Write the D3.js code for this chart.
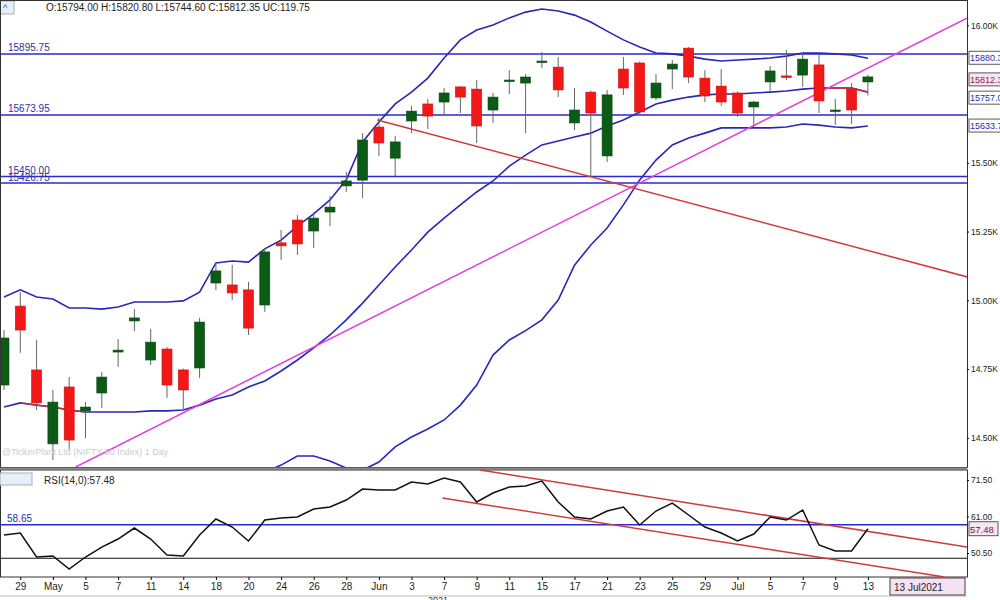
<!DOCTYPE html>
<html>
<head>
<meta charset="utf-8">
<script src="https://cdn.jsdelivr.net/npm/d3@7"></script>
<style>
  body { margin: 0; background: #fff; }
  text { font-family: "Liberation Sans", Arial, sans-serif; }
</style>
</head>
<body>
<svg id="chart" width="1000" height="600"></svg>
<script>
// trading days (label shown every second day)
const dates = ["28","29","30","May","4","5","6","7","10","11","12","14","17","18","19","20","21","24","25","26","27","28","31","Jun","2","3","4","7","8","9","10","11","14","15","16","17","18","21","22","23","24","25","28","29","30","Jul","2","5","6","7","8","9","12","13"];

const opens  = [14692,14979,14747,14478,14685,14598,14663,14812,14925,14783,14823,14747,14754,15063,15056,15038,14983,15209,15292,15252,15321,15416,15437,15630,15517,15652,15714,15721,15776,15768,15692,15797,15790,15867,15848,15645,15757,15525,15841,15863,15736,15841,15917,15808,15779,15754,15703,15794,15816,15819,15856,15688,15768,15794];
const highs  = [14892,15030,14856,14674,14721,14630,14739,14859,14968,14896,14830,14752,14936,15136,15129,15067,15190,15256,15310,15321,15379,15467,15608,15663,15597,15707,15732,15772,15779,15801,15754,15837,15823,15903,15885,15772,15762,15765,15885,15868,15823,15874,15921,15837,15841,15759,15725,15852,15910,15903,15892,15732,15790,15820.8];
const lows   = [14674,14809,14601,14419,14456,14499,14609,14758,14888,14765,14645,14601,14718,15038,15001,14874,14958,15147,15165,15190,15270,15394,15372,15525,15452,15608,15623,15674,15681,15572,15645,15750,15608,15845,15739,15619,15452,15503,15747,15677,15728,15768,15790,15721,15707,15667,15630,15757,15801,15776,15681,15637,15641,15744.6];
const closes = [14863,14892,14627,14630,14492,14612,14721,14819,14936,14848,14692,14674,14921,15107,15027,14899,15176,15198,15205,15299,15339,15434,15583,15572,15576,15688,15670,15754,15739,15634,15739,15801,15812,15870,15765,15692,15681,15747,15772,15685,15790,15859,15812,15743,15721,15681,15721,15834,15812,15877,15725,15692,15692,15812.35];

// Bollinger bands
const bbUpper = [15012,15038,15012,15005,14972,14972,14968,14976,14994,14994,14994,14998,15030,15136,15143,15139,15187,15219,15270,15314,15365,15438,15576,15648,15714,15757,15808,15881,15947,15983,16001,16027,16048,16059,16052,16037,16012,15979,15947,15921,15899,15896,15888,15877,15870,15874,15877,15881,15888,15899,15899,15896,15892,15880.3];
const bbMid   = [14612,14627,14619,14612,14601,14594,14594,14594,14594,14598,14598,14601,14619,14641,14656,14685,14707,14743,14783,14827,14874,14929,14990,15056,15121,15183,15248,15299,15347,15394,15434,15488,15528,15565,15579,15594,15608,15634,15656,15685,15714,15728,15739,15747,15750,15750,15754,15757,15761,15768,15772,15772,15772,15757];
const bbLower = [14210,14215,14220,14220,14230,14215,14220,14212,14195,14200,14200,14205,14210,14150,14170,14230,14375,14401,14434,14434,14416,14390,14383,14412,14467,14503,14532,14565,14619,14692,14801,14856,14890,14929,15001,15128,15201,15263,15347,15438,15510,15565,15590,15608,15627,15627,15627,15627,15630,15641,15637,15630,15627,15633.7];

const rsi = [55.68,56.25,49.35,49.63,45.9,49.35,52.22,54.53,57.69,54.53,49.92,49.63,55.68,60.28,57.98,53.95,59.99,60.57,60.86,63.16,63.73,65.75,68.91,68.62,68.62,70.92,70.35,72.08,70.92,65.17,67.76,69.49,69.77,71.21,65.17,60.86,60.28,62.58,63.73,58.55,62.58,64.88,61.43,57.98,56.25,53.95,55.96,60.86,59.99,62.87,52.8,51.07,51.07,57.48];

const levels = [15895.75, 15673.95, 15450.00, 15426.75];
const priceTicks = [14500, 14750, 15000, 15250, 15500, 16000];
const rsiTicks = [50.5, 61, 71.5];
const rsiLevels = [58.65, 49];

// trendlines as [index, value] pairs
const magentaLine = [[4.4, 14394], [59.1, 16027]];
const redLine = [[22.9, 15656], [59.1, 15085]];
const rsiUpper = [[29.2, 74.38], [59.1, 52.2]];
const rsiLower = [[26.9, 66.32], [57.7, 43.6]];

const svg = d3.select("#chart");
const W = 967;
const pTop = 0, pBot = 467, rTop = 470, rBot = 577;

const x = d3.scaleLinear().domain([-0.245, 59.08]).range([0, W]);
const y = d3.scaleLinear().domain([14394, 16092]).range([pBot, pTop]);
const yr = d3.scaleLinear().domain([43.6, 74.38]).range([rBot, rTop]);

const idx = d3.range(dates.length);

svg.append("clipPath").attr("id", "pclip").append("rect").attr("x", 0).attr("y", pTop).attr("width", W).attr("height", pBot - pTop);
svg.append("clipPath").attr("id", "rclip").append("rect").attr("x", 0).attr("y", rTop).attr("width", W).attr("height", rBot - rTop);

const price = svg.append("g").attr("clip-path", "url(#pclip)");

// horizontal levels
price.selectAll("line.lvl").data(levels).join("line")
  .attr("x1", 0).attr("x2", W)
  .attr("y1", d => y(d)).attr("y2", d => y(d))
  .attr("stroke", "#2a2ad0").attr("stroke-width", 1.5);

const line = (arr) => d3.line().x((d, i) => x(i)).y(d => y(d))(arr);
const segLine = d3.line().x(d => x(d[0])).y(d => y(d[1]));

// bollinger bands
[bbUpper, bbMid, bbLower].forEach(b => {
  price.append("path").attr("d", line(b)).attr("fill", "none")
    .attr("stroke", "#2828b8").attr("stroke-width", 1.6);
});
// red overlays on middle band
[[1, 5], [50, 53]].forEach(([a, b]) => {
  price.append("path")
    .attr("d", d3.line().x(i => x(i)).y(i => y(bbMid[i]))(d3.range(a, b + 1)))
    .attr("fill", "none").attr("stroke", "#d03030").attr("stroke-width", 1.4);
});

price.append("path").attr("d", segLine(magentaLine)).attr("stroke", "#e040e0").attr("stroke-width", 1.5).attr("fill", "none");
price.append("path").attr("d", segLine(redLine)).attr("stroke", "#d03a3a").attr("stroke-width", 1.5).attr("fill", "none");

// candles
const cw = 10;
const c = price.selectAll("g.c").data(idx).join("g");
c.append("line")
  .attr("x1", i => x(i)).attr("x2", i => x(i))
  .attr("y1", i => y(highs[i])).attr("y2", i => y(lows[i]))
  .attr("stroke", "#666").attr("stroke-width", 1);
c.append("rect")
  .attr("x", i => x(i) - cw / 2).attr("width", cw)
  .attr("y", i => y(Math.max(opens[i], closes[i])))
  .attr("height", i => Math.max(1.5, Math.abs(y(opens[i]) - y(closes[i]))))
  .attr("fill", i => closes[i] >= opens[i] ? "#0b5a16" : "#f21818")
  .attr("stroke", i => closes[i] >= opens[i] ? "#0b4a14" : "#d01010").attr("stroke-width", 0.6);

// level labels
const lvlLab = [["15895.75", levels[0], -3], ["15673.95", levels[1], -3], ["15450.00", levels[2], -3], ["15426.75", levels[3], -2]];
svg.selectAll("text.lvl").data(lvlLab).join("text")
  .attr("x", 8).attr("y", d => y(d[1]) + d[2])
  .attr("font-size", 10).attr("fill", "#3030a0").text(d => d[0]);

// header
svg.append("text").attr("x", 46).attr("y", 11).attr("font-size", 10).attr("fill", "#222")
  .text("O:15794.00  H:15820.80  L:15744.60  C:15812.35  UC:119.75");
svg.append("rect").attr("x", 0).attr("y", 1).attr("width", 14).attr("height", 13).attr("fill", "#e8eef8").attr("stroke", "#aab");
svg.append("text").attr("x", 3).attr("y", 11).attr("font-size", 9).attr("fill", "#2050c0").text("^");

svg.append("text").attr("x", 2).attr("y", 455).attr("font-size", 9).attr("fill", "#ccc")
  .text("@TickerPlant Ltd (NIFTY 50 Index) 1 Day");

// frames
svg.append("rect").attr("x", 0.5).attr("y", 0.5).attr("width", W).attr("height", pBot).attr("fill", "none").attr("stroke", "#333");
svg.append("line").attr("x1", 0).attr("x2", W).attr("y1", pBot + 1.5).attr("y2", pBot + 1.5).attr("stroke", "#888").attr("stroke-width", 2);
svg.append("rect").attr("x", 0.5).attr("y", rTop).attr("width", W).attr("height", rBot - rTop).attr("fill", "none").attr("stroke", "#333");

// price axis
const pAxis = svg.append("g").attr("transform", `translate(${W},0)`)
  .call(d3.axisRight(y).tickValues(priceTicks).tickSize(2).tickPadding(2).tickFormat(d => (d / 1000).toFixed(2) + "K"));
pAxis.select(".domain").remove();
pAxis.selectAll("text").attr("font-size", 8.5).attr("fill", "#222").attr("font-family", "Liberation Sans, Arial");

// right value boxes
const boxes = [[bbUpper[53], "15880.3", "#2828b8", 0], [closes[53], "15812.3", "#902060", 3], [bbMid[53], "15757.0", "#2828b8", 6], [bbLower[53], "15633.7", "#2828b8", 0]];
boxes.forEach(([v, t, col, dy]) => {
  const yy = y(v) + dy;
  svg.append("rect").attr("x", W + 2).attr("y", yy - 7).attr("width", 40).attr("height", 13)
    .attr("fill", t === "15812.3" ? "#f6e6f2" : "#fff").attr("stroke", "#333").attr("stroke-width", 0.8);
  svg.append("text").attr("x", W + 3).attr("y", yy + 3).attr("font-size", 9).attr("fill", col).text(t);
});

// RSI panel
const rsiG = svg.append("g").attr("clip-path", "url(#rclip)");
rsiG.append("line").attr("x1", 0).attr("x2", W).attr("y1", yr(rsiLevels[0])).attr("y2", yr(rsiLevels[0])).attr("stroke", "#2a2ad0").attr("stroke-width", 1.5);
rsiG.append("line").attr("x1", 0).attr("x2", W).attr("y1", yr(rsiLevels[1])).attr("y2", yr(rsiLevels[1])).attr("stroke", "#111").attr("stroke-width", 1.2);
const rseg = d3.line().x(d => x(d[0])).y(d => yr(d[1]));
[rsiUpper, rsiLower].forEach(s => rsiG.append("path").attr("d", rseg(s)).attr("stroke", "#d03a3a").attr("stroke-width", 1.5).attr("fill", "none"));
rsiG.append("path").attr("d", d3.line().x((d, i) => x(i)).y(d => yr(d))(rsi))
  .attr("fill", "none").attr("stroke", "#111").attr("stroke-width", 1.5);

svg.append("text").attr("x", 44).attr("y", 484).attr("font-size", 10).attr("fill", "#222").text("RSI(14,0):57.48");
svg.append("rect").attr("x", 0).attr("y", 473).attr("width", 32).attr("height", 12).attr("fill", "#e8eef8").attr("stroke", "#aab");
svg.append("text").attr("x", 7).attr("y", yr(rsiLevels[0]) - 3).attr("font-size", 10).attr("fill", "#3030a0").text("58.65");

const rAxis = svg.append("g").attr("transform", `translate(${W},0)`)
  .call(d3.axisRight(yr).tickValues(rsiTicks).tickSize(2).tickPadding(2).tickFormat(d3.format(".2f")));
rAxis.select(".domain").remove();
rAxis.selectAll("text").attr("font-size", 8.5).attr("fill", "#222").attr("font-family", "Liberation Sans, Arial");
svg.append("rect").attr("x", W + 2).attr("y", yr(57.48) - 7).attr("width", 29).attr("height", 14).attr("fill", "#f6e6f2").attr("stroke", "#333").attr("stroke-width", 0.8);
svg.append("text").attr("x", W + 3).attr("y", yr(57.48) + 4).attr("font-size", 9.5).attr("fill", "#6a2050").text("57.48");

// date axis
const dAxis = svg.append("g").attr("transform", `translate(0,${rBot})`)
  .call(d3.axisBottom(x).tickValues(idx.filter(i => i % 2 === 1)).tickSize(3).tickFormat(i => dates[i]));
dAxis.select(".domain").remove();
dAxis.selectAll("text").attr("font-size", 10).attr("fill", "#222").attr("font-family", "Liberation Sans, Arial");
svg.append("line").attr("x1", 0).attr("x2", W).attr("y1", 596).attr("y2", 596).attr("stroke", "#bbb");
svg.append("text").attr("x", 428).attr("y", 603).attr("font-size", 9).attr("fill", "#333").text("2021");
svg.append("rect").attr("x", 890).attr("y", 578).attr("width", 75).attr("height", 17).attr("fill", "#f6e0f4").attr("stroke", "#444");
svg.append("text").attr("x", 894).attr("y", 591).attr("font-size", 10).attr("fill", "#222").text("13 Jul2021");
</script>
</body>
</html>
